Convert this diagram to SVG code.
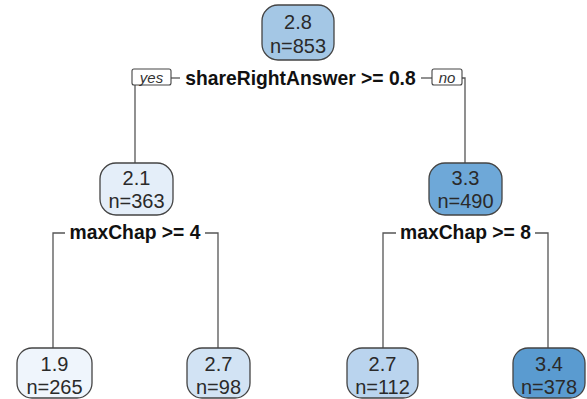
<svg xmlns="http://www.w3.org/2000/svg" width="587" height="399" viewBox="0 0 587 399">
<style>
.box{stroke:#444;stroke-width:1.3}
.nt{font-family:"Liberation Sans",Arial,sans-serif;font-size:20px;fill:#2a2a2a;text-anchor:middle}
.st{font-family:"Liberation Sans",Arial,sans-serif;font-size:19.3px;font-weight:bold;fill:#111;text-anchor:middle}
.yn{font-family:"Liberation Sans",Arial,sans-serif;font-size:15px;font-style:italic;fill:#333;text-anchor:middle}
.ln{stroke:#555;stroke-width:1.3;fill:none}
.lb{fill:#fff;stroke:#444;stroke-width:1.1}
</style>
<rect width="587" height="399" fill="#fff"/>
<g id="connectors">
<path class="ln" d="M171 78H180"/>
<path class="ln" d="M135 85V163"/>
<path class="ln" d="M421 78H432"/>
<path class="ln" d="M462 78H465V163"/>
<path class="ln" d="M65 233H53V348"/>
<path class="ln" d="M205 233H218V348"/>
<path class="ln" d="M396 233H383V348"/>
<path class="ln" d="M535 233H548V348"/>
</g>
<g id="split0">
<rect class="lb" x="132" y="69" width="39" height="16" rx="2"/>
<text class="yn" x="151.5" y="82.5">yes</text>
<text class="st" x="300.5" y="85">shareRightAnswer &gt;= 0.8</text>
<rect class="lb" x="432" y="69" width="30" height="16" rx="2"/>
<text class="yn" x="447" y="82.5">no</text>
</g>
<g id="split1"><text class="st" x="135" y="239">maxChap &gt;= 4</text></g>
<g id="split2"><text class="st" x="465.5" y="239">maxChap &gt;= 8</text></g>
<g id="n1"><rect class="box" x="262" y="5" width="72" height="55" rx="16" fill="#a4c7e5"/>
<text class="nt" x="298" y="29">2.8</text><text class="nt" x="298" y="53">n=853</text></g>
<g id="n2"><rect class="box" x="100" y="163" width="73" height="52" rx="16" fill="#e4eef9"/>
<text class="nt" x="136.5" y="185">2.1</text><text class="nt" x="136.5" y="208">n=363</text></g>
<g id="n3"><rect class="box" x="429" y="163" width="73" height="52" rx="16" fill="#6ea8d8"/>
<text class="nt" x="465.5" y="185">3.3</text><text class="nt" x="465.5" y="208">n=490</text></g>
<g id="n4"><rect class="box" x="17" y="348" width="75" height="50" rx="15" fill="#eff5fc"/>
<text class="nt" x="54.5" y="371">1.9</text><text class="nt" x="54.5" y="394">n=265</text></g>
<g id="n5"><rect class="box" x="187" y="348" width="63" height="50" rx="15" fill="#d2e3f4"/>
<text class="nt" x="218.5" y="371">2.7</text><text class="nt" x="218.5" y="394">n=98</text></g>
<g id="n6"><rect class="box" x="347" y="348" width="71" height="50" rx="15" fill="#bad4ee"/>
<text class="nt" x="382.5" y="371">2.7</text><text class="nt" x="382.5" y="394">n=112</text></g>
<g id="n7"><rect class="box" x="513" y="348" width="72" height="50" rx="15" fill="#5a9bd0"/>
<text class="nt" x="549" y="371">3.4</text><text class="nt" x="549" y="394">n=378</text></g>
</svg>
